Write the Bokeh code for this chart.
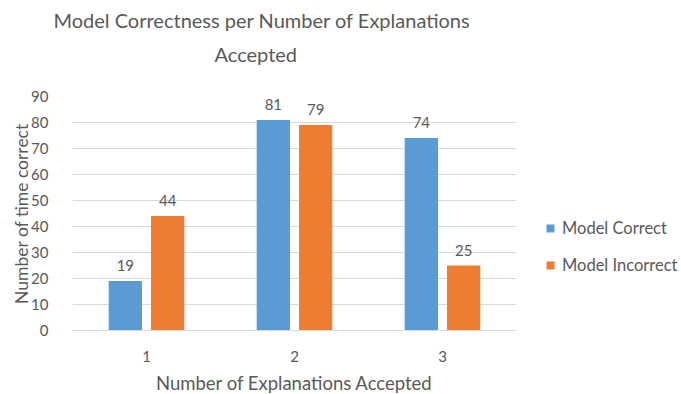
from bokeh.plotting import figure
from bokeh.models import ColumnDataSource, LabelSet, Legend, LegendItem, FixedTicker, Title
from bokeh.transform import dodge
from bokeh.core.properties import value
from bokeh.embed import file_html
from bokeh.resources import INLINE

# Data
categories = [1, 2, 3]
model_correct = [19, 81, 74]
model_incorrect = [44, 79, 25]
y_ticks = [0, 10, 20, 30, 40, 50, 60, 70, 80, 90]

FONT = "Lato"
TEXT = "#595959"
BLUE = "#5B9BD5"
ORANGE = "#ED7D31"
GRID = "#D9D9D9"

src = ColumnDataSource(dict(
    x=categories,
    correct=model_correct,
    incorrect=model_incorrect,
    correct_lbl=[str(v) for v in model_correct],
    incorrect_lbl=[str(v) for v in model_incorrect],
))

p = figure(frame_width=444, frame_height=234, x_range=(0.5, 3.5), y_range=(0, 90),
           output_backend="svg", toolbar_location=None,
           min_border_left=72, min_border_right=20,
           min_border_top=0, min_border_bottom=64)
p.outline_line_color = None
p.background_fill_color = "white"

w = 0.225
off = 0.143
r1 = p.vbar(x=dodge("x", -off, range=p.x_range), top="correct", width=w,
            source=src, fill_color=BLUE, line_color=None)
r2 = p.vbar(x=dodge("x", off, range=p.x_range), top="incorrect", width=w,
            source=src, fill_color=ORANGE, line_color=None)

for col, lbl, o in (("correct", "correct_lbl", -off), ("incorrect", "incorrect_lbl", off)):
    p.add_layout(LabelSet(x=dodge("x", o, range=p.x_range), y=col, text=lbl, source=src,
                          y_offset=10, text_align="center", text_baseline="bottom",
                          text_font=value(FONT), text_font_size="15px", text_color=TEXT))

# axes
p.xaxis.ticker = FixedTicker(ticks=categories)
p.yaxis.ticker = FixedTicker(ticks=y_ticks)
for ax in (p.xaxis[0], p.yaxis[0]):
    ax.major_tick_line_color = None
    ax.minor_tick_line_color = None
    ax.major_label_text_font = FONT
    ax.major_label_text_font_size = "15px"
    ax.major_label_text_color = TEXT
    ax.axis_label_text_font = FONT
    ax.axis_label_text_font_style = "normal"
    ax.axis_label_text_color = TEXT
p.xaxis.axis_label_text_font_size = "18.5px"
p.yaxis.axis_label_text_font_size = "17.5px"
p.yaxis.axis_line_color = None
p.xaxis.axis_line_color = GRID
p.yaxis.major_label_standoff = 18
p.xaxis.major_label_standoff = 14
p.xaxis.axis_label = "Number of Explanations Accepted"
p.yaxis.axis_label = "Number of time correct"
p.xaxis.axis_label_standoff = 7
p.yaxis.axis_label_standoff = -4

p.xgrid.grid_line_color = None
p.ygrid.grid_line_color = GRID
p.ygrid.ticker = FixedTicker(ticks=y_ticks)

# two-line title; the later one sits further from the frame.
# The trailing blank line leaves room between the title and the bars.
p.add_layout(Title(text="Accepted\n ", align="left", offset=142,
                   vertical_align="top",
                   text_font=FONT, text_font_size="20px", text_font_style="normal",
                   text_color=TEXT), "above")
p.add_layout(Title(text="Model Correctness per Number of Explanations", align="left",
                   offset=-19,
                   text_font=FONT, text_font_size="20px", text_font_style="normal",
                   text_color=TEXT), "above")

legend = Legend(items=[LegendItem(label="Model Correct", renderers=[r1]),
                       LegendItem(label="Model Incorrect", renderers=[r2])],
                location=(29, 55), orientation="vertical",
                glyph_width=10, glyph_height=10, spacing=17,
                label_text_font=FONT, label_text_font_size="16.5px",
                label_text_color=TEXT, label_standoff=7,
                background_fill_alpha=0, border_line_color=None, padding=4, margin=0)
p.add_layout(legend, "right")

open("out.html", "w").write(file_html(p, INLINE))
